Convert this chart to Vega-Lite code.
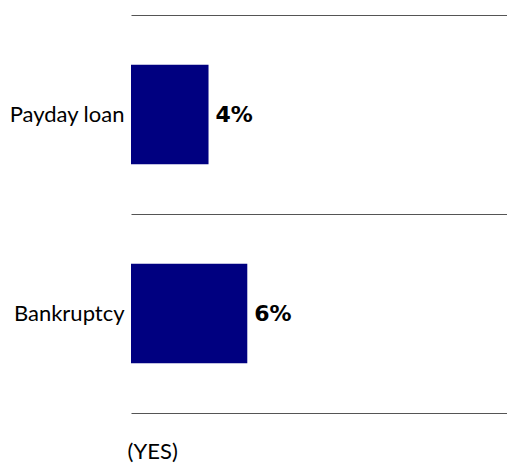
{
  "$schema": "https://vega.github.io/schema/vega-lite/v6.json",
  "autosize": "none",
  "width": 376,
  "height": 398,
  "padding": {"left": 131, "top": 15, "right": 0, "bottom": 51},
  "background": "white",
  "config": {"view": {"stroke": null}},
  "data": {"values": [
    {"item": "Payday loan", "value": 4, "label": "4%"},
    {"item": "Bankruptcy", "value": 6, "label": "6%"}
  ]},
  "encoding": {
    "y": {
      "field": "item", "type": "nominal", "sort": null,
      "scale": {"paddingInner": 0, "paddingOuter": 0},
      "axis": {
        "title": null, "ticks": false, "domain": false,
        "grid": true, "tickBand": "extent", "gridColor": "#555555", "gridWidth": 1.2,
        "labelFont": "Lato", "labelFontSize": 22, "labelColor": "#000000",
        "labelPadding": 7
      }
    },
    "x": {
      "field": "value", "type": "quantitative",
      "scale": {"domain": [0, 19.4]},
      "axis": {
        "labels": false, "ticks": false, "domain": false, "grid": false,
        "title": "(YES)", "titleFont": "Lato", "titleFontSize": 22, "titleFontWeight": "normal",
        "titleColor": "#000000", "titleAnchor": "start", "titleAlign": "left",
        "titleX": -4, "titleY": 45, "titleBaseline": "alphabetic"
      }
    }
  },
  "layer": [
    {"mark": {"type": "bar", "color": "#000080", "height": {"band": 0.5}}},
    {"mark": {"type": "text", "align": "left", "baseline": "middle", "dx": 7,
              "font": "DejaVu Sans", "fontWeight": "bold", "fontSize": 22, "color": "#000000"},
     "encoding": {"text": {"field": "label"}}}
  ]
}
